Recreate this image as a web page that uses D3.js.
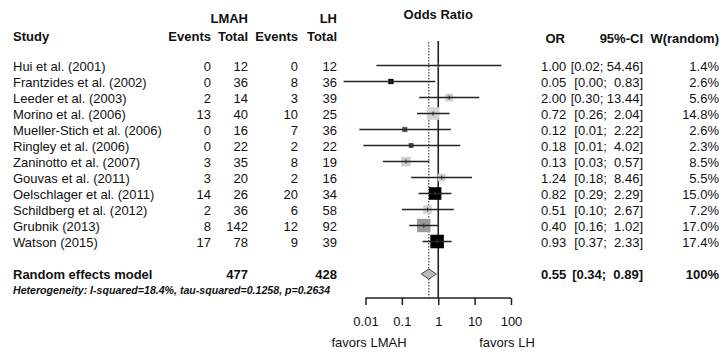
<!DOCTYPE html>
<html>
<head>
<meta charset="utf-8">
<script src="https://cdn.jsdelivr.net/npm/d3@7"></script>
<style>
    body { margin: 0; background: #fff; }
    svg { display: block; font-family: "Liberation Sans", Arial, sans-serif; }
    text { white-space: pre; }
</style>
</head>
<body>
<div id="forest"></div>
<script>
// Data
const studies = [
    'Hui et al. (2001)', 'Frantzides et al. (2002)', 'Leeder et al. (2003)', 'Morino et al. (2006)',
    'Mueller-Stich et al. (2006)', 'Ringley et al. (2006)', 'Zaninotto et al. (2007)', 'Gouvas et al. (2011)',
    'Oelschlager et al. (2011)', 'Schildberg et al. (2012)', 'Grubnik (2013)', 'Watson (2015)'
];
const lmahEvents = [0, 0, 2, 13, 0, 0, 3, 3, 14, 2, 8, 17];
const lmahTotal = [12, 36, 14, 40, 16, 22, 35, 20, 26, 36, 142, 78];
const lhEvents = [0, 8, 3, 10, 7, 2, 8, 2, 20, 6, 12, 9];
const lhTotal = [12, 36, 39, 25, 36, 22, 19, 16, 34, 58, 92, 39];
const oddsRatio = [1.00, 0.05, 2.00, 0.72, 0.12, 0.18, 0.13, 1.24, 0.82, 0.51, 0.40, 0.93];
const ciLower = [0.02, 0.0025, 0.30, 0.26, 0.0068, 0.0087, 0.03, 0.18, 0.29, 0.10, 0.16, 0.37];
const ciUpper = [54.46, 0.83, 13.44, 2.04, 2.22, 4.02, 0.57, 8.46, 2.29, 2.67, 1.02, 2.33];
const weight = [1.4, 2.6, 5.6, 14.8, 2.6, 2.3, 8.5, 5.5, 15.0, 7.2, 17.0, 17.4];

const summaryLabel = 'Random effects model';
const summaryOR = 0.55;
const summaryLower = 0.34;
const summaryUpper = 0.89;
const heterogeneity = 'Heterogeneity: I-squared=18.4%, tau-squared=0.1258, p=0.2634';

const axisTicks = [0.01, 0.1, 1, 10, 100];
const favorsLeft = 'favors LMAH';
const favorsRight = 'favors LH';

// Style per box (as seen in the picture)
const boxFill = ['#cfcfcf', '#000', '#cfcfcf', '#d4d4d4', '#666', '#555', '#cfcfcf', '#d4d4d4', '#000', '#d4d4d4', '#9a9a9a', '#000'];

const width = 722, height = 354;
const fontSize = 13;

const svg = d3.select('#forest')
    .append('svg')
    .attr('width', width)
    .attr('height', height)
    .style('font-size', fontSize + 'px')
    .attr('fill', '#111');

const xScale = d3.scaleLog()
    .domain([0.01, 100])
    .range([365.5, 511]);

const yScale = d3.scaleLinear()
    .domain([0, studies.length - 1])
    .range([65.5, 241.5]);

const ySummary = 274;
const axisY = 298;
const lineTop = 41;
const baseShift = 5;

const col = { study: 13, lmahEv: 211, lmahTot: 248, lhEv: 298, lhTot: 337, or: 541, orEnd: 565, ci: 643, w: 719 };

const fmt = d3.format('.2f');
const pad = (s, n) => '\u00a0'.repeat(Math.max(0, n - s.length)) + s;
const ciText = (lo, hi) => '[' + fmt(lo) + '; ' + pad(fmt(hi), 5) + ']';

function txt(x, y, s, anchor, opts) {
    const t = svg.append('text')
        .attr('x', x)
        .attr('y', y)
        .attr('text-anchor', anchor || 'start')
        .text(s);
    if (opts && opts.bold) t.attr('font-weight', 'bold');
    if (opts && opts.italic) t.attr('font-style', 'italic');
    if (opts && opts.size) t.style('font-size', opts.size + 'px');
    return t;
}

// headers
txt(col.lmahTot, 23, 'LMAH', 'end', { bold: true });
txt(col.lhTot, 23, 'LH', 'end', { bold: true });
txt(xScale(1), 19, 'Odds Ratio', 'middle', { bold: true });
txt(col.study, 41, 'Study', 'start', { bold: true });
txt(col.lmahEv, 41, 'Events', 'end', { bold: true });
txt(col.lmahTot, 41, 'Total', 'end', { bold: true });
txt(col.lhEv, 41, 'Events', 'end', { bold: true });
txt(col.lhTot, 41, 'Total', 'end', { bold: true });
txt(col.orEnd, 43, 'OR', 'end', { bold: true });
txt(col.ci, 43, '95%-CI', 'end', { bold: true });
txt(col.w, 43, 'W(random)', 'end', { bold: true });

// study rows text
studies.forEach((s, i) => {
    const y = yScale(i) + baseShift;
    txt(col.study, y, s);
    txt(col.lmahEv, y, lmahEvents[i], 'end');
    txt(col.lmahTot, y, lmahTotal[i], 'end');
    txt(col.lhEv, y, lhEvents[i], 'end');
    txt(col.lhTot, y, lhTotal[i], 'end');
    txt(col.or, y, fmt(oddsRatio[i]));
    txt(col.ci, y, ciText(ciLower[i], ciUpper[i]), 'end');
    txt(col.w, y, weight[i].toFixed(1) + '%', 'end');
});

// summary row
const ys = ySummary + baseShift;
txt(col.study, ys, summaryLabel, 'start', { bold: true });
txt(col.lmahTot, ys, d3.sum(lmahTotal), 'end', { bold: true });
txt(col.lhTot, ys, d3.sum(lhTotal), 'end', { bold: true });
txt(col.or, ys, fmt(summaryOR), 'start', { bold: true });
txt(col.ci, ys, ciText(summaryLower, summaryUpper), 'end', { bold: true });
txt(col.w, ys, '100%', 'end', { bold: true });
txt(col.study, 294, heterogeneity, 'start', { bold: true, italic: true, size: 10.6 });

// reference lines
svg.append('line')
    .attr('x1', xScale(summaryOR)).attr('x2', xScale(summaryOR))
    .attr('y1', lineTop + 1).attr('y2', axisY)
    .attr('stroke', '#222')
    .attr('stroke-width', 1)
    .attr('stroke-dasharray', '1.5,1.5');

svg.append('line')
    .attr('x1', xScale(1)).attr('x2', xScale(1))
    .attr('y1', lineTop).attr('y2', axisY)
    .attr('stroke', '#222')
    .attr('stroke-width', 1.6);

// boxes
const boxSide = w => 3.25 * Math.sqrt(w);
svg.append('g')
    .selectAll('rect')
    .data(studies)
    .join('rect')
    .attr('x', (d, i) => xScale(oddsRatio[i]) - boxSide(weight[i]) / 2)
    .attr('y', (d, i) => yScale(i) - boxSide(weight[i]) / 2)
    .attr('width', (d, i) => boxSide(weight[i]))
    .attr('height', (d, i) => boxSide(weight[i]))
    .attr('fill', (d, i) => boxFill[i]);

// CI lines
svg.append('g')
    .selectAll('line')
    .data(studies)
    .join('line')
    .attr('x1', (d, i) => xScale(ciLower[i]))
    .attr('x2', (d, i) => xScale(ciUpper[i]))
    .attr('y1', (d, i) => yScale(i))
    .attr('y2', (d, i) => yScale(i))
    .attr('stroke', '#222')
    .attr('stroke-width', 1.5);

// estimate marks
svg.append('g')
    .selectAll('line')
    .data(studies)
    .join('line')
    .attr('x1', (d, i) => xScale(oddsRatio[i]))
    .attr('x2', (d, i) => xScale(oddsRatio[i]))
    .attr('y1', (d, i) => yScale(i) - 2)
    .attr('y2', (d, i) => yScale(i) + 2)
    .attr('stroke', '#333')
    .attr('stroke-width', 1.2);

// summary diamond
const dh = 5;
svg.append('path')
    .attr('d', `M${xScale(summaryLower)},${ySummary} L${xScale(summaryOR)},${ySummary - dh} L${xScale(summaryUpper)},${ySummary} L${xScale(summaryOR)},${ySummary + dh} Z`)
    .attr('fill', '#bdbdbd')
    .attr('stroke', '#444')
    .attr('stroke-width', 1);

// x axis
const xAxis = svg.append('g')
    .attr('transform', `translate(0,${axisY})`)
    .call(d3.axisBottom(xScale)
        .tickValues(axisTicks)
        .tickSize(7)
        .tickPadding(12)
        .tickFormat(d => String(d)));

xAxis.select('.domain')
    .attr('d', `M${xScale.range()[0]},0H${xScale.range()[1]}`)
    .attr('stroke', '#222')
    .attr('stroke-width', 1.5);

xAxis.selectAll('.tick line')
    .attr('stroke', '#222')
    .attr('stroke-width', 1.5);

xAxis.selectAll('text')
    .style('font-size', fontSize + 'px')
    .style('font-family', '"Liberation Sans", Arial, sans-serif')
    .attr('fill', '#111');

txt(369, 347, favorsLeft, 'middle');
txt(507, 347, favorsRight, 'middle');
</script>
</body>
</html>
